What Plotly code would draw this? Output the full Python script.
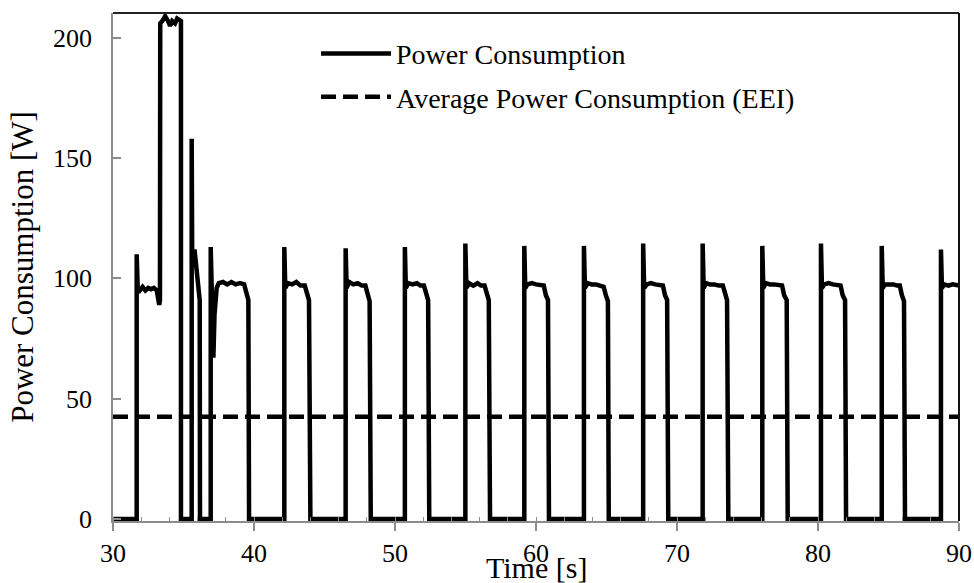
import plotly.graph_objects as go

# ---------------- data ----------------
time_s = [
    30.00, 31.68, 31.68, 31.75, 31.90, 32.10, 32.30, 32.50, 32.70, 32.90, 33.10, 33.20, 33.28, 33.33,
    33.35, 33.50, 33.70, 33.90, 34.05, 34.20, 34.40, 34.55, 34.75, 34.82, 34.82,
    35.58, 35.58, 35.62, 35.78, 35.90, 36.05, 36.15, 36.17,
    36.93, 36.93, 37.05, 37.12, 37.20, 37.35, 37.50, 37.80, 38.10, 38.40, 38.70, 39.00, 39.30, 39.45, 39.60, 39.65,
    42.15, 42.15, 42.22, 42.40, 42.70, 43.00, 43.30, 43.60, 43.75, 43.90, 44.00,
    46.50, 46.50, 46.57, 46.75, 47.05, 47.35, 47.65, 47.90, 48.05, 48.20, 48.28,
    50.70, 50.70, 50.77, 50.95, 51.25, 51.55, 51.80, 52.05, 52.20, 52.35, 52.43,
    54.99, 54.99, 55.06, 55.25, 55.55, 55.85, 56.10, 56.35, 56.50, 56.65, 56.74,
    59.17, 59.17, 59.24, 59.40, 59.70, 60.00, 60.30, 60.55, 60.70, 60.85, 60.92,
    63.40, 63.40, 63.47, 63.65, 63.95, 64.25, 64.50, 64.80, 64.95, 65.10, 65.16,
    67.60, 67.60, 67.67, 67.85, 68.15, 68.45, 68.75, 69.00, 69.15, 69.30, 69.38,
    71.82, 71.82, 71.89, 72.05, 72.35, 72.65, 72.95, 73.25, 73.40, 73.55, 73.64,
    76.05, 76.05, 76.12, 76.30, 76.60, 76.90, 77.20, 77.45, 77.60, 77.78, 77.85,
    80.21, 80.21, 80.28, 80.45, 80.75, 81.05, 81.35, 81.60, 81.75, 81.92, 81.99,
    84.52, 84.52, 84.59, 84.75, 85.05, 85.35, 85.60, 85.80, 85.95, 86.10, 86.17,
    88.72, 88.72, 88.79, 88.95, 89.25, 89.55, 89.80, 90.00,
]
power_w = [
    0, 0, 110, 96, 95, 96.5, 95, 96, 95.5, 96, 95, 92, 89, 91,
    206, 207, 209, 207, 205, 207, 206, 208, 207, 207, 0,
    0, 158, 105, 112, 104, 96, 91, 0,
    0, 113, 85, 67, 85, 96, 98, 98.5, 97.5, 98.5, 97.5, 98, 97.5, 94, 91, 0,
    0, 113, 96, 98, 97.5, 98.5, 97, 97, 93, 91, 0,
    0, 112.5, 96, 98.5, 97.5, 98, 97, 97, 93, 90.5, 0,
    0, 113, 96, 98, 97.5, 98, 97, 97, 93, 91, 0,
    0, 114.5, 96, 98, 97, 98, 97, 97, 93, 91, 0,
    0, 113.5, 96, 97.5, 98, 97.5, 97, 97, 93, 91, 0,
    0, 113.5, 96, 98, 97.5, 97.5, 97, 96.5, 93, 90.5, 0,
    0, 114.5, 96, 97.5, 98, 97.5, 97, 97, 93, 91, 0,
    0, 114.5, 96, 98, 97.5, 97.5, 97, 97, 93, 91, 0,
    0, 113.5, 96, 98, 97.5, 97.5, 97, 97, 93, 91, 0,
    0, 114.5, 96, 97.5, 98, 97.5, 97, 97, 93, 91, 0,
    0, 113.5, 96, 97.5, 97.5, 97.5, 97, 97, 93, 90.5, 0,
    0, 112, 96, 97.5, 97, 97.5, 97, 97,
]
eei_time = [30, 90]
eei_power = [42.5, 42.5]

x_ticks = [30, 40, 50, 60, 70, 80, 90]
y_ticks = [0, 50, 100, 150, 200]

FONT = "Liberation Serif, Times New Roman, serif"
GRAY = "#8c8c8c"

fig = go.Figure()
fig.add_trace(go.Scatter(
    x=time_s, y=power_w, mode="lines", name="Power Consumption",
    line=dict(color="black", width=4.5), legendgroup="a",
))
fig.add_trace(go.Scatter(
    x=eei_time, y=eei_power, mode="lines", name="Average Power Consumption (EEI)",
    line=dict(color="black", width=4.5, dash="15px,7px"), legendgroup="b",
))

fig.update_layout(
    width=974, height=583,
    margin=dict(l=113, r=15, t=13, b=62, autoexpand=False),
    paper_bgcolor="white", plot_bgcolor="white",
    font=dict(family=FONT, color="black", size=26),
    showlegend=True,
    legend=dict(
        x=0.240, y=0.969, xanchor="left", yanchor="top",
        font=dict(family=FONT, size=28, color="black"),
        bgcolor="rgba(0,0,0,0)", itemwidth=70,
        traceorder="grouped", tracegroupgap=4,
    ),
    xaxis=dict(
        range=[30, 90], tickvals=x_ticks, ticks="outside", ticklen=8,
        tickcolor=GRAY, tickwidth=1.5,
        showline=True, linecolor=GRAY, linewidth=1.5,
        showgrid=False, zeroline=False, automargin=False,
        tickfont=dict(family=FONT, size=26),
        ticklabelstandoff=0,
        minor=dict(dtick=2, tick0=30, ticks="inside", ticklen=4, tickcolor=GRAY, tickwidth=1.2, showgrid=False),
    ),
    yaxis=dict(
        range=[-0.85, 210.3], tickvals=y_ticks, ticks="inside", ticklen=8,
        tickcolor=GRAY, tickwidth=1.5,
        showline=True, linecolor=GRAY, linewidth=1.5,
        showgrid=False, zeroline=False, automargin=False,
        tickfont=dict(family=FONT, size=26),
        ticklabelstandoff=14,
        title=dict(text="Power Consumption [W]", font=dict(family=FONT, size=31), standoff=10),
    ),
    annotations=[
        dict(text="Time [s]", xref="paper", yref="paper", x=0.5, y=-0.0906,
             xanchor="center", yanchor="middle", showarrow=False,
             font=dict(family=FONT, size=30, color="black")),
    ],
    shapes=[
        dict(type="line", xref="paper", yref="paper", x0=0, x1=1, y0=1, y1=1,
             line=dict(color="#222222", width=1.8)),
        dict(type="line", xref="paper", yref="paper", x0=1, x1=1, y0=0, y1=1,
             line=dict(color="#111111", width=2)),
    ],
)

fig.write_html("out.html")
